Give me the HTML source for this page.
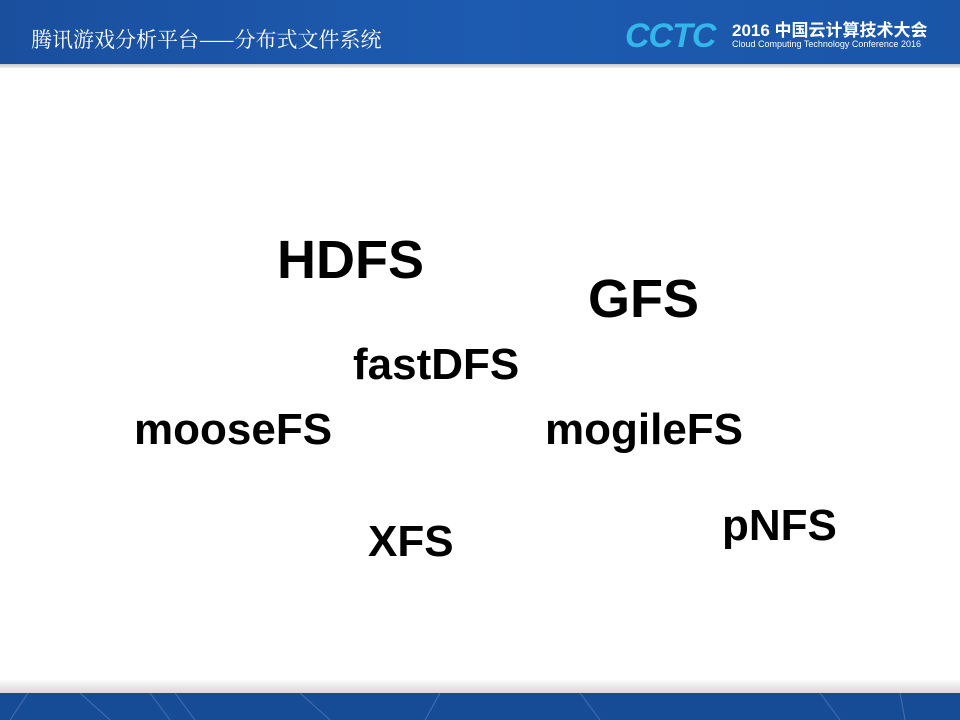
<!DOCTYPE html>
<html><head><meta charset="utf-8"><style>
body{margin:0;width:960px;height:720px;overflow:hidden;background:#fff;position:relative;font-family:"Liberation Sans",Arial,sans-serif}
.hd{position:absolute;left:0;top:0;width:960px;height:64px;background:linear-gradient(90deg,#1a4f9e,#1d5bb0 50%,#1a55a8)}
.gb{position:absolute;left:0;top:64px;width:960px;height:4px;background:linear-gradient(#c8c8c8,#f0f0f0)}
.t{position:absolute;left:31px;top:24px;color:#fff;font-size:21px;font-family:"Noto Serif CJK SC","Liberation Serif",serif;}
.cctc{position:absolute;left:625px;top:17px;color:#35b6ea;font-size:34px;font-weight:bold;font-style:italic;letter-spacing:-1px}
.r1{position:absolute;left:732px;top:16px;color:#fff;font-size:17px;font-weight:bold;font-family:"Liberation Sans","Noto Sans CJK SC",sans-serif}
.r2{position:absolute;left:732px;top:39px;color:#fff;font-size:9px}
.ft{position:absolute;left:0;top:680px;width:960px;height:13px;background:linear-gradient(#fafafa,#d8d8d8)}
.fb{position:absolute;left:0;top:693px;width:960px;height:27px;background:#154c95}
.w{position:absolute;font-weight:bold;color:#000;line-height:1;white-space:nowrap}
.s{font-size:44px}.b{font-size:54px}
</style></head><body>
<div class="hd"></div><div class="gb"></div>
<div class="t">腾讯游戏分析平台——分布式文件系统</div>
<div class="cctc">CCTC</div>
<div class="r1">2016 中国云计算技术大会</div>
<div class="r2">Cloud Computing Technology Conference 2016</div>
<div class="w b" style="left:277px;top:233px">HDFS</div>
<div class="w b" style="left:588px;top:272px">GFS</div>
<div class="w s" style="left:353px;top:343px">fastDFS</div>
<div class="w s" style="left:134px;top:408px">mooseFS</div>
<div class="w s" style="left:545px;top:408px">mogileFS</div>
<div class="w s" style="left:368px;top:520px">XFS</div>
<div class="w s" style="left:722px;top:504px">pNFS</div>
<div class="ft"></div><div class="fb"></div>
<svg style="position:absolute;left:0;top:693px" width="960" height="27" stroke="#6a85c0" stroke-width="1" opacity="0.6">
<line x1="28" y1="0" x2="10" y2="27"/><line x1="80" y1="0" x2="110" y2="27"/><line x1="150" y1="0" x2="170" y2="27"/><line x1="175" y1="0" x2="195" y2="27"/><line x1="300" y1="0" x2="330" y2="27"/><line x1="440" y1="0" x2="425" y2="27"/><line x1="580" y1="0" x2="600" y2="27"/><line x1="820" y1="0" x2="840" y2="27"/><line x1="900" y1="0" x2="905" y2="27"/>
</svg>
</body></html>
